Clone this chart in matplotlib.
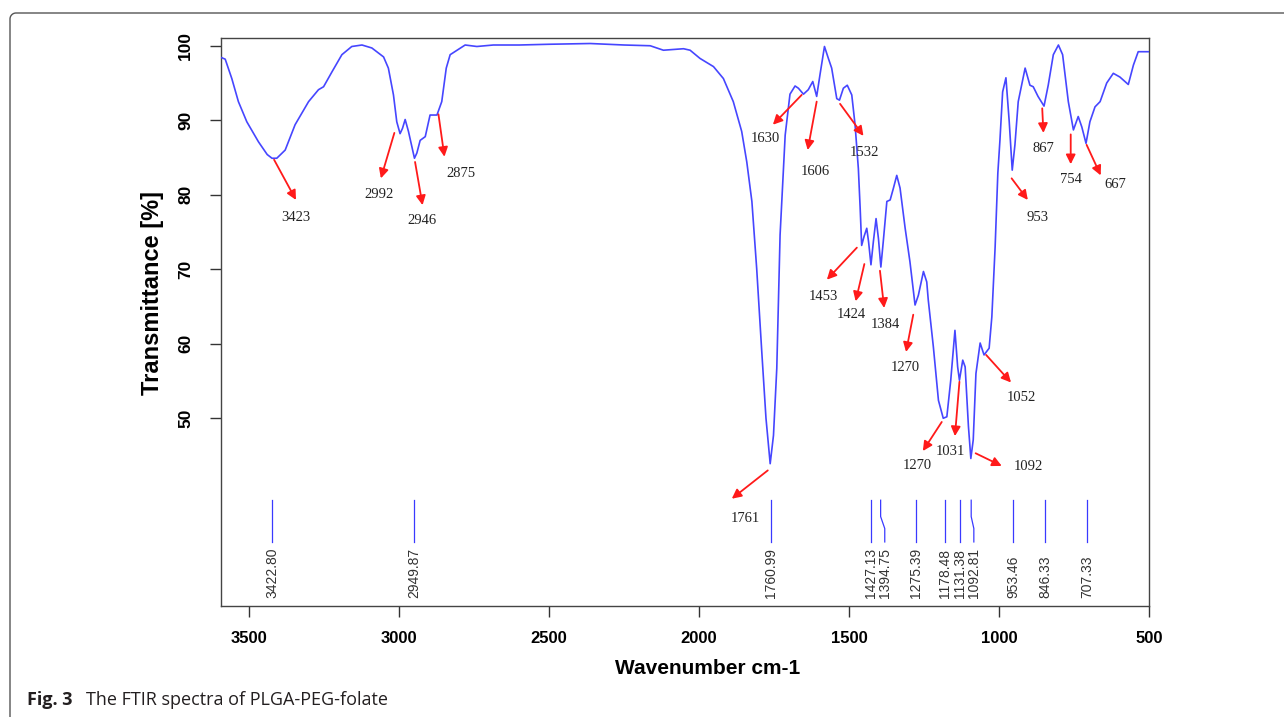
import matplotlib
matplotlib.use("Agg")
import matplotlib.pyplot as plt
from matplotlib.lines import Line2D
import numpy as np

# ── spectrum (wavenumber cm-1, transmittance %) ──
wavenumber = [3592, 3580, 3558, 3536, 3508, 3469, 3440, 3424, 3408, 3380,
              3347, 3302, 3269, 3252, 3224, 3191, 3158, 3124, 3091, 3052,
              3036, 3019, 3008, 2997, 2989, 2980, 2969, 2949, 2941, 2930,
              2913, 2897, 2874, 2858, 2843, 2830, 2780, 2741, 2686, 2600,
              2500, 2363, 2250, 2163, 2119, 2052, 2030, 1997, 1952, 1919,
              1886, 1858, 1841, 1824, 1808, 1791, 1777, 1763, 1752, 1741,
              1730, 1713, 1697, 1680, 1669, 1652, 1636, 1621, 1608, 1597,
              1582, 1569, 1558, 1541, 1532, 1519, 1506, 1491, 1480, 1469,
              1463, 1458, 1450, 1441, 1435, 1427, 1419, 1410, 1402, 1394,
              1386, 1374, 1363, 1352, 1341, 1330, 1313, 1297, 1280, 1269,
              1252, 1241, 1236, 1219, 1202, 1186, 1174, 1161, 1147, 1138,
              1132, 1121, 1113, 1102, 1094, 1086, 1077, 1063, 1050, 1033,
              1024, 1013, 1004, 997, 988, 977, 966, 956, 947, 936,
              913, 897, 886, 870, 850, 836, 819, 802, 788, 769,
              752, 736, 724, 710, 697, 680, 663, 641, 619, 597,
              569, 552, 536, 502]
transmittance = [98.4, 98.2, 95.6, 92.5, 89.8, 87.1, 85.4, 84.9, 84.9, 86.0,
                 89.4, 92.5, 94.1, 94.5, 96.5, 98.8, 99.9, 100.1, 99.7, 98.5,
                 97.0, 93.4, 89.8, 88.2, 88.9, 90.1, 88.5, 84.9, 85.6, 87.3,
                 87.8, 90.7, 90.7, 92.5, 97.0, 98.8, 100.1, 99.9, 100.1, 100.1,
                 100.2, 100.3, 100.1, 100.0, 99.4, 99.6, 99.4, 98.3, 97.2, 95.6,
                 92.5, 88.5, 84.4, 79.1, 70.1, 58.9, 50.0, 43.9, 47.7, 56.7,
                 74.6, 88.0, 93.5, 94.6, 94.3, 93.5, 94.1, 95.2, 93.2, 96.1,
                 99.9, 98.3, 97.0, 92.9, 92.7, 94.3, 94.7, 93.4, 89.4, 83.5,
                 78.2, 73.2, 74.4, 75.5, 73.7, 70.6, 73.7, 76.8, 74.1, 70.3,
                 73.7, 79.1, 79.3, 80.9, 82.6, 80.9, 75.5, 71.0, 65.2, 66.5,
                 69.7, 68.3, 65.9, 59.6, 52.4, 50.0, 50.2, 55.1, 61.8, 56.9,
                 55.1, 57.8, 56.9, 48.9, 44.6, 47.1, 56.0, 60.1, 58.5, 59.4,
                 63.6, 73.0, 82.9, 87.3, 93.8, 95.7, 89.8, 83.3, 86.7, 92.5,
                 97.0, 94.7, 94.5, 93.2, 91.9, 94.7, 98.8, 100.1, 98.8, 92.5,
                 88.7, 90.5, 89.1, 86.9, 89.8, 91.8, 92.5, 95.0, 96.3, 95.8,
                 94.8, 97.4, 99.2, 99.2]

# ── assigned bands: label, tail (wn, T), head (wn, T), text position (wn, T) ──
band_labels = ['3423', '2992', '2946', '2875', '1630', '1606', '1532', '867',
               '754', '667', '953', '1453', '1424', '1384', '1270', '1270',
               '1031', '1092', '1052', '1761']
arrow_tail = [(3417, 84.7), (3016, 88.3), (2947, 84.4), (2869, 90.8),
              (1658, 93.4), (1608, 92.5), (1530, 92.2), (856, 91.6),
              (761, 88.1), (708, 86.7), (958, 82.2), (1474, 72.9),
              (1449, 70.7), (1397, 69.8), (1286, 63.9), (1191, 49.5),
              (1132, 54.9), (1078, 45.3), (1043, 58.5), (1771, 43.0)]
arrow_head = [(3344, 79.3), (3061, 82.2), (2922, 78.6), (2849, 85.1),
              (1754, 89.4), (1638, 86.0), (1452, 87.9), (852, 88.3),
              (761, 84.1), (661, 82.6), (904, 79.3), (1574, 68.6),
              (1478, 65.7), (1383, 64.8), (1310, 58.9), (1254, 45.6),
              (1147, 47.6), (991, 43.6), (960, 54.8), (1891, 39.2)]
label_pos = [(3343, 77.0), (3066, 80.1), (2924, 76.5), (2793, 82.9),
             (1780, 87.6), (1613, 83.1), (1449, 85.7), (852, 86.2),
             (761, 82.0), (613, 81.4), (871, 76.9), (1586, 66.3),
             (1491, 63.9), (1380, 62.6), (1311, 56.8), (1272, 43.6),
             (1163, 45.6), (902, 43.5), (924, 52.8), (1847, 36.5)]

# ── peak picking table ──
peak_wn = [3422.80, 2949.87, 1760.99, 1427.13, 1394.75, 1275.39,
           1178.48, 1131.38, 1092.81, 953.46, 846.33, 707.33]
peak_text_wn = [3422.80, 2949.87, 1760.99, 1427.13, 1381.0, 1275.39,
                1178.48, 1131.38, 1084.0, 953.46, 846.33, 707.33]

x_ticks = [3500, 3000, 2500, 2000, 1500, 1000, 500]
y_ticks = [50, 60, 70, 80, 90, 100]

BLUE = '#4646ff'
PEAK_BLUE = '#3a3aff'
W, H = 1284, 717

fig = plt.figure(figsize=(W / 100, H / 100), dpi=100)
fig.patch.set_facecolor('white')
ax = fig.add_axes([221 / W, 1 - 606 / H, (1149 - 221) / W, (606 - 38.3) / H])

ax.plot(wavenumber, transmittance, color=BLUE, lw=1.2, zorder=3)

ax.set_xlim(3594, 500)
ax.set_ylim(24.8, 101.0)
ax.set_xticks(x_ticks)
ax.set_yticks(y_ticks)
ax.set_xticklabels([str(v) for v in x_ticks], fontsize=12, fontweight='bold',
                   family='Liberation Sans')
ax.set_yticklabels([str(v) for v in y_ticks], fontsize=12.5, fontweight='bold',
                   family='Liberation Sans', rotation=90, va='center')
ax.tick_params(axis='x', direction='out', length=8, width=1, pad=10, color='#333333')
ax.tick_params(axis='y', direction='out', length=8, width=1, pad=12, color='#333333')
for sp in ax.spines.values():
    sp.set_color('#444444')
    sp.set_linewidth(1.0)

# red arrows + band numbers
for lab, tail, head, pos in zip(band_labels, arrow_tail, arrow_head, label_pos):
    ax.annotate('', xy=head, xytext=tail,
                arrowprops=dict(arrowstyle='-|>', color='#ff1a1a', lw=1.3,
                                mutation_scale=14, shrinkA=0, shrinkB=0))
    ax.text(pos[0], pos[1], lab, family='Liberation Serif', fontsize=10.5,
            ha='center', va='center', color='#222222')

# peak table lines and rotated values
for wn, twn in zip(peak_wn, peak_text_wn):
    if abs(wn - twn) > 1:
        ax.plot([wn, wn, twn, twn], [39.0, 36.8, 35.2, 33.4], color=PEAK_BLUE, lw=0.9)
    else:
        ax.plot([wn, wn], [39.0, 33.4], color=PEAK_BLUE, lw=0.9)
    ax.text(twn, 25.9, f'{wn:.2f}', rotation=90, ha='center', va='bottom',
            family='Liberation Sans', fontsize=10, color='#333333')

# axis titles
fig.text(152 / W, 1 - 293 / H, 'Transmittance [%]', rotation=90, ha='center',
         va='center', fontsize=17, fontweight='bold', family='Liberation Sans')
fig.text(708 / W, 1 - 668 / H, 'Wavenumber cm-1', ha='center', va='center',
         fontsize=15, fontweight='bold', family='Liberation Sans')

# caption
fig.text(27 / W, 1 - 700 / H, 'Fig. 3', ha='left', va='center', fontsize=13,
         fontweight='bold', family='Open Sans', color='#231f20')
fig.text(86 / W, 1 - 700 / H, 'The FTIR spectra of PLGA-PEG-folate', ha='left',
         va='center', fontsize=13, family='Open Sans', color='#231f20')

# frame around the figure panel
arc = np.linspace(np.pi, np.pi / 2, 12)
fx = np.concatenate([[10, 10], 16 + 6 * np.cos(arc), [W]])
fy = np.concatenate([[H, 19], 19 - 6 * np.sin(arc), [13]])
fig.add_artist(Line2D(fx / W, 1 - fy / H, color='#555555', lw=1.0,
                      transform=fig.transFigure))

fig.savefig('out.png', dpi=100, facecolor='white')
